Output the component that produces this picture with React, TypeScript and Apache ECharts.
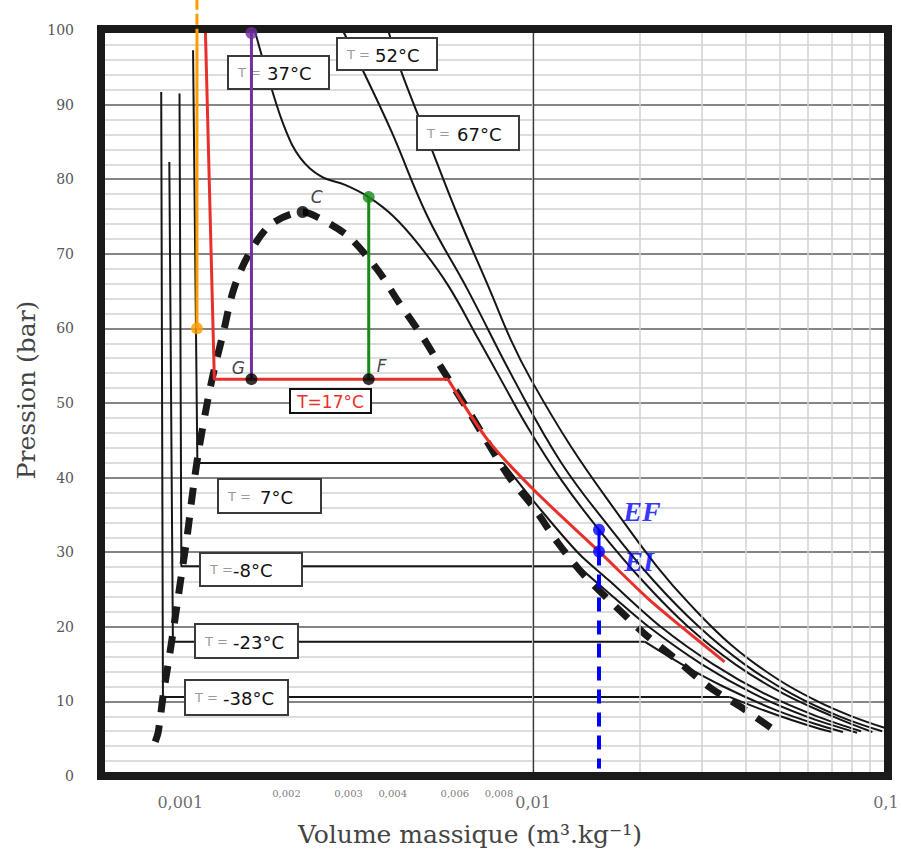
import React, { useEffect, useRef } from "react";
import * as echarts from "echarts";

// ---------- axes ----------
const X_MIN = 0.0006;
const X_MAX = 0.1;
const Y_MIN = 0;
const Y_MAX = 100;
const Y_INTERVAL = 10;

const xMainTicks = [0.001, 0.01, 0.1];
const xMainTickLabels = ["0,001", "0,01", "0,1"];
const xMinorTicks = [0.002, 0.003, 0.004, 0.006, 0.008];
const xMinorTickLabels = ["0,002", "0,003", "0,004", "0,006", "0,008"];
const gridDarkV = [0.001, 0.01];
const gridLightV = [0.0007, 0.0008, 0.0009, 0.002, 0.003, 0.004, 0.005, 0.006, 0.007, 0.008, 0.009,
  0.02, 0.03, 0.04, 0.05, 0.06, 0.07, 0.08, 0.09];

// ---------- saturation dome ----------
const domeV = [0.000849, 0.000866, 0.000895, 0.000931, 0.000968, 0.001007, 0.001047, 0.001082, 0.001125,
  0.001178, 0.001233, 0.001325, 0.001414, 0.00155, 0.001802, 0.002222, 0.00245, 0.003001, 0.003628,
  0.004162, 0.00487, 0.005549, 0.006451, 0.007451, 0.008545, 0.010066, 0.011778, 0.013956, 0.016988,
  0.020537, 0.02515, 0.031623, 0.039506, 0.048064];
const domeP = [4.6, 5.9, 10.9, 16.0, 21.3, 26.9, 32.3, 37.7, 43.3, 48.7, 53.4, 59.5, 65.1, 69.6, 73.9, 75.6,
  74.9, 72.3, 67.8, 63.5, 58.8, 54.4, 49.5, 44.6, 40.1, 35.9, 31.2, 26.9, 22.9, 19.2, 15.8, 11.9, 9.0, 6.2];

// ---------- isotherms (liquid branch + plateau, then vapour branch) ----------
const isoM38LiqV = [0.000883, 0.000893, 0.036];
const isoM38LiqP = [91.7, 10.6, 10.6];
const isoM38VapV = [0.036, 0.04389, 0.054, 0.06508, 0.0703];
const isoM38VapP = [10.6, 9.0, 7.5, 6.3, 5.9];

const isoM23LiqV = [0.000931, 0.000953, 0.0207];
const isoM23LiqP = [82.3, 18.0, 18.0];
const isoM23VapV = [0.0207, 0.02633, 0.03458, 0.04778, 0.06286, 0.0755];
const isoM23VapP = [18.0, 15, 12, 9, 7, 5.9];

const isoM8LiqV = [0.000995, 0.001007, 0.01342];
const isoM8LiqP = [91.5, 28.1, 28.1];
const isoM8VapV = [0.01342, 0.01688, 0.02125, 0.03, 0.04227, 0.05938, 0.0828];
const isoM8VapP = [28.1, 24, 20, 15, 11, 8, 5.8];

const iso7LiqV = [0.001087, 0.001118, 0.00822];
const iso7LiqP = [97.3, 41.96, 41.96];
const iso7VapV = [0.00822, 0.01033, 0.01342, 0.01633, 0.023, 0.03233, 0.04545, 0.06375, 0.085];
const iso7VapP = [41.96, 36.1, 29.9, 26.3, 20, 15, 11, 8, 6.0];

const iso17LiqV = [0.001178, 0.001249, 0.005735];
const iso17LiqP = [100, 53.2, 53.2];
const iso17VapV = [0.005735, 0.007451, 0.01007, 0.01537, 0.02136, 0.02634, 0.03488];
const iso17VapP = [53.2, 45.0, 38.3, 30.1, 23.6, 20.0, 15.3];

const iso37V = [0.001633, 0.001802, 0.001988, 0.002193, 0.002499, 0.002942, 0.00342, 0.004002, 0.004744,
  0.005735, 0.007025, 0.008111, 0.009552, 0.012013, 0.01537, 0.02058, 0.0275, 0.03733, 0.05136, 0.07063, 0.0915];
const iso37P = [99.6, 92.6, 86.6, 82.8, 80.4, 79.2, 77.6, 75.1, 71.2, 65.8, 58.4, 53.1, 47.1, 39.7, 33.0,
  26, 20, 15, 11, 8, 5.9];

const iso52V = [0.002904, 0.00329, 0.00395, 0.005031, 0.006537, 0.008831, 0.012013, 0.01667,
  0.02212, 0.0295, 0.03967, 0.05409, 0.07375, 0.0975];
const iso52P = [99.7, 94.6, 86.6, 74.9, 65.1, 53.1, 42.0, 33, 26, 20, 15, 11, 8, 6.0];

const iso67V = [0.003898, 0.004217, 0.005199, 0.006121, 0.007547, 0.00866, 0.00987, 0.012823, 0.01728,
  0.0225, 0.02783, 0.03657, 0.04923, 0.064, 0.08, 0.1];
const iso67P = [99.7, 94.6, 83.6, 75.1, 65.1, 58.4, 53.1, 44.1, 35.3, 28, 23, 17.5, 13, 10, 8, 6.4];

const tempLabels = ["37°C", "52°C", "67°C", "7°C", "-8°C", "-23°C", "-38°C"];
const redLabel = "T=17°C";

// ---------- state points ----------
const pointNames = ["C", "G", "F"];
const pointV = [0.002222, 0.001591, 0.00342];
const pointP = [75.6, 53.2, 53.2];

const purpleV = [0.001591, 0.001591];
const purpleP = [99.6, 53.2];
const greenV = [0.00342, 0.00342];
const greenP = [77.6, 53.2];
const orangeV = [0.001115, 0.001115];
const orangeP = [100, 60];
const orangeAboveP = [104.2, 100];

const blueNames = ["EF", "EI"];
const blueV = [0.01537, 0.01537];
const blueP = [33.0, 30.1];
const blueDropP = [30.1, 1.0];

const zip = (v: number[], p: number[]) => v.map((x, i) => [x, p[i]]);

// layout of the temperature boxes: [x, y, w, h, valueX]
const boxLayout = [
  [228, 56, 101, 33, 267],
  [337, 38, 100, 32, 375],
  [417, 116, 102, 34, 457],
  [218, 479, 103, 34, 260],
  [200, 553, 102, 33, 233],
  [195, 624, 103, 34, 233],
  [185, 680, 103, 35, 223],
];

export default function App() {
  const ref = useRef<HTMLDivElement>(null);
  useEffect(() => {
    const chart = echarts.init(ref.current!, null, { renderer: "svg" });
    const BLACK = "#161616";
    const line = (name: string, data: number[][], color: string, width: number, smooth: number | boolean, z: number, extra: any = {}) => ({
      type: "line",
      name,
      data,
      smooth,
      symbol: "none",
      silent: true,
      z,
      lineStyle: { color, width, ...(extra.lineStyle || {}) },
      ...(extra.other || {}),
    });

    const graphics: any[] = [];
    boxLayout.forEach((b, i) => {
      const [x, y, w, h, vx] = b;
      graphics.push({
        type: "rect", z: 10, shape: { x, y, width: w, height: h },
        style: { fill: "#ffffff", stroke: "#3a3a3a", lineWidth: 2 },
      });
      graphics.push({
        type: "text", z: 11, x: x + 10, y: y + h / 2,
        style: { text: "T =", fill: "#9a9a9a", fontSize: 13, fontFamily: "DejaVu Sans", textVerticalAlign: "middle" },
      });
      graphics.push({
        type: "text", z: 11, x: vx, y: y + h / 2 + 1,
        style: { text: tempLabels[i], fill: "#111", fontSize: 18, fontFamily: "DejaVu Sans", textVerticalAlign: "middle" },
      });
    });
    graphics.push({
      type: "rect", z: 10, shape: { x: 290, y: 389, width: 81, height: 24 },
      style: { fill: "#ffffff", stroke: "#111", lineWidth: 2 },
    });
    graphics.push({
      type: "text", z: 11, x: 330.5, y: 402,
      style: { text: redLabel, fill: "#e8302a", fontSize: 17, fontFamily: "DejaVu Sans", textAlign: "center", textVerticalAlign: "middle" },
    });
    graphics.push({
      type: "rect", z: 30, shape: { x: 101, y: 29, width: 787, height: 747 },
      style: { fill: "transparent", stroke: "#1a1a1a", lineWidth: 8 },
    });
    graphics.push({
      type: "text", z: 11, x: 470, y: 834,
      style: { text: "Volume massique (m³.kg⁻¹)", fill: "#444", fontSize: 25, fontFamily: "DejaVu Serif", textAlign: "center", textVerticalAlign: "middle" },
    });
    graphics.push({
      type: "text", z: 11, x: 26, y: 390, rotation: Math.PI / 2,
      style: { text: "Pression (bar)", fill: "#444", fontSize: 25, fontFamily: "DejaVu Serif", textAlign: "center", textVerticalAlign: "middle" },
    });

    const option: any = {
      animation: false,
      backgroundColor: "#ffffff",
      grid: { left: 102, right: 15, top: 30, bottom: 78 },
      xAxis: {
        type: "log", logBase: 10, min: X_MIN, max: X_MAX,
        axisLine: { show: false }, axisTick: { show: false }, axisLabel: { show: false },
        splitLine: { show: false },
      },
      yAxis: {
        type: "value", min: Y_MIN, max: Y_MAX, interval: Y_INTERVAL,
        axisLine: { show: false }, axisTick: { show: false },
        axisLabel: { color: "#555", fontFamily: "DejaVu Serif", fontSize: 14, margin: 28 },
        splitLine: { show: true, lineStyle: { color: "#5c5c5c", width: 1.5 } },
        minorTick: { show: false, splitNumber: 5 },
        minorSplitLine: { show: true, lineStyle: { color: "#d2d2d2", width: 1.5 } },
      },
      graphic: graphics,
      series: [
        {
          type: "line", name: "gridLight", data: [[X_MIN, 0]], symbol: "none", silent: true, z: 1,
          lineStyle: { opacity: 0 },
          markLine: {
            silent: true, symbol: ["none", "none"], label: { show: false }, emphasis: { disabled: true },
            lineStyle: { color: "#d2d2d2", width: 1.5, type: "solid" },
            data: gridLightV.map((v) => ({ xAxis: v })),
          },
        },
        {
          type: "line", name: "gridDark", data: [[X_MIN, 0]], symbol: "none", silent: true, z: 1,
          lineStyle: { opacity: 0 },
          markLine: {
            silent: true, symbol: ["none", "none"], label: { show: false }, emphasis: { disabled: true },
            lineStyle: { color: "#3a3a3a", width: 1.3, type: "solid" },
            data: gridDarkV.map((v) => ({ xAxis: v })),
          },
        },
        line("-38 liq", zip(isoM38LiqV, isoM38LiqP), BLACK, 2, false, 3),
        line("-38 vap", zip(isoM38VapV, isoM38VapP), BLACK, 2, 0.3, 3),
        line("-23 liq", zip(isoM23LiqV, isoM23LiqP), BLACK, 2, false, 3),
        line("-23 vap", zip(isoM23VapV, isoM23VapP), BLACK, 2, 0.3, 3),
        line("-8 liq", zip(isoM8LiqV, isoM8LiqP), BLACK, 2, false, 3),
        line("-8 vap", zip(isoM8VapV, isoM8VapP), BLACK, 2, 0.3, 3),
        line("7 liq", zip(iso7LiqV, iso7LiqP), BLACK, 2, false, 3),
        line("7 vap", zip(iso7VapV, iso7VapP), BLACK, 2, 0.3, 3),
        line("37", zip(iso37V, iso37P), BLACK, 2, 0.4, 3),
        line("52", zip(iso52V, iso52P), BLACK, 2, 0.4, 3),
        line("67", zip(iso67V, iso67P), BLACK, 2, 0.4, 3),
        line("dome", zip(domeV, domeP), "#1a1a1a", 7, 0.3, 4, { lineStyle: { type: [17, 13], cap: "butt" } }),
        line("17 liq", zip(iso17LiqV, iso17LiqP), "#e8302a", 3, false, 5),
        line("17 vap", zip(iso17VapV, iso17VapP), "#e8302a", 3, 0.3, 5),
        line("purple", zip(purpleV, purpleP), "#7030a0", 3, false, 20),
        line("green", zip(greenV, greenP), "#168a16", 3, false, 20),
        line("orange", zip(orangeV, orangeP), "#ff9c00", 3, false, 35),
        line("orangeAbove", zip(orangeV, orangeAboveP), "#ff9c00", 3, false, 35, { lineStyle: { type: [11, 4] }, other: { clip: false } }),
        line("blueSeg", zip(blueV, blueP), "#0000ff", 3, false, 20),
        line("blueDrop", zip(blueV, blueDropP), "#0000ff", 4, false, 20, { lineStyle: { type: [14, 9] } }),
        {
          type: "scatter", name: "markers", silent: true, z: 40, symbolSize: 12, clip: false,
          data: [
            { value: [purpleV[0], purpleP[0]], itemStyle: { color: "#7030a0" } },
            { value: [greenV[0], greenP[0]], itemStyle: { color: "#168a16" } },
            { value: [orangeV[1], orangeP[1]], itemStyle: { color: "#ff9c00" } },
          ],
        },
        {
          type: "scatter", name: "points", silent: true, z: 40, symbolSize: 12,
          itemStyle: { color: "#000" },
          data: zip(pointV, pointP),
          label: {
            show: true, position: "inside", color: "#111", fontSize: 17, fontStyle: "italic", fontFamily: "DejaVu Sans",
            formatter: (p: any) => pointNames[p.dataIndex],
          },
          labelLayout: (p: any) => {
            const offs = [[14, -15], [-13, -11], [13, -13]];
            const o = offs[p.dataIndex];
            return { x: p.rect.x + p.rect.width / 2 + o[0], y: p.rect.y + p.rect.height / 2 + o[1], align: "center", verticalAlign: "middle" };
          },
        },
        {
          type: "scatter", name: "blue", silent: true, z: 40, symbolSize: 12,
          itemStyle: { color: "#0000ff" },
          data: zip(blueV, blueP),
          label: {
            show: true, position: "inside", color: "#0000ff", fontSize: 28, fontStyle: "italic", fontWeight: "bold", fontFamily: "Liberation Serif",
            formatter: (p: any) => blueNames[p.dataIndex],
          },
          labelLayout: (p: any) => {
            const offs = [[43, -18], [40, 10]];
            const o = offs[p.dataIndex];
            return { x: p.rect.x + p.rect.width / 2 + o[0], y: p.rect.y + p.rect.height / 2 + o[1], align: "center", verticalAlign: "middle" };
          },
        },
        {
          type: "scatter", name: "xMainLabels", silent: true, z: 40, symbolSize: 0, clip: false,
          data: xMainTicks.map((v) => [v, -3.6]),
          label: {
            show: true, position: "inside", color: "#444", fontSize: 16, fontFamily: "DejaVu Serif",
            formatter: (p: any) => xMainTickLabels[p.dataIndex],
          },
        },
        {
          type: "scatter", name: "xMinorLabels", silent: true, z: 40, symbolSize: 0, clip: false,
          data: xMinorTicks.map((v) => [v, -2.3]),
          label: {
            show: true, position: "inside", color: "#555", fontSize: 10, fontFamily: "DejaVu Serif",
            formatter: (p: any) => xMinorTickLabels[p.dataIndex],
          },
        },
      ],
    };
    chart.setOption(option);
    return () => chart.dispose();
  }, []);
  return <div ref={ref} style={{ position: "fixed", left: 0, top: 0, width: 901, height: 854, background: "#fff" }} />;
}
